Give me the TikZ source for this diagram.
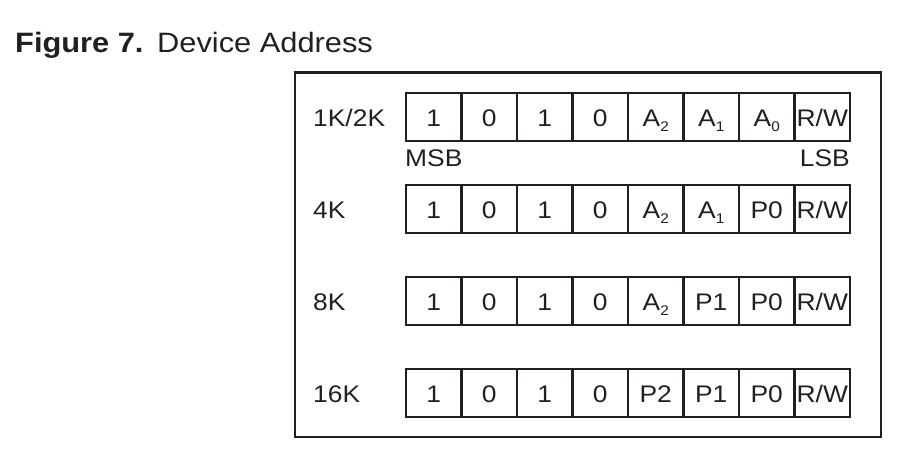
\documentclass[tikz,border=0pt]{standalone}
\usepackage{fontspec}
\setmainfont{Liberation Sans}[FakeStretch=1.1]
\definecolor{ink}{RGB}{35,31,32}
\newcommand{\lowidx}[1]{\raisebox{-5pt}{\fontsize{14}{14}\selectfont #1}}
\tikzset{
 cell/.style={draw=ink, line width=2.5pt, minimum width=55.5pt, minimum height=48pt,
   inner sep=0pt, text height=18pt, text depth=0pt, font=\fontsize{24}{24}\selectfont},
 rowlab/.style={inner sep=0pt, font=\fontsize{24}{24}\selectfont},
}
\begin{document}
\begin{tikzpicture}[x=1pt, y=-1pt, text=ink]
\useasboundingbox (0,0) rectangle (918,451);
% tieu de
\node[anchor=base west, inner sep=0pt, font=\fontsize{28}{28}\selectfont\bfseries] (fig) at (15,52.7) {Figure 7.};
\node[anchor=base west, inner sep=0pt, font=\fontsize{28}{28}\selectfont] (cap) at (157,52.7) {Device Address};
\draw[ink, line width=2.5pt] (295,72.7) rectangle (881,437); %khung ngoai
% cac hang dia chi
\foreach \r/\y/\lab/\ca/\cb/\cc in {1/117/{1K/2K}/{A\lowidx{2}}/{A\lowidx{1}}/{A\lowidx{0}},
  2/209/4K/{A\lowidx{2}}/{A\lowidx{1}}/P0, 3/301/8K/{A\lowidx{2}}/P1/P0, 4/393/16K/P2/P1/P0}{
\node[rowlab, anchor=base west] (lab\r) at (313,\y+9) {\lab};
\foreach \k/\t in {1/1,2/0,3/1,4/0,5/\ca,6/\cb,7/\cc,8/{R/W}}
\node[cell] (c\r-\k) at ({406+55.5*(\k-0.5)},\y) {\t};
}
\node[rowlab, anchor=base west] (msb) at (405,166) {MSB};
\node[rowlab, anchor=base east] (lsb) at (850,166) {LSB};
\end{tikzpicture}
\end{document}
